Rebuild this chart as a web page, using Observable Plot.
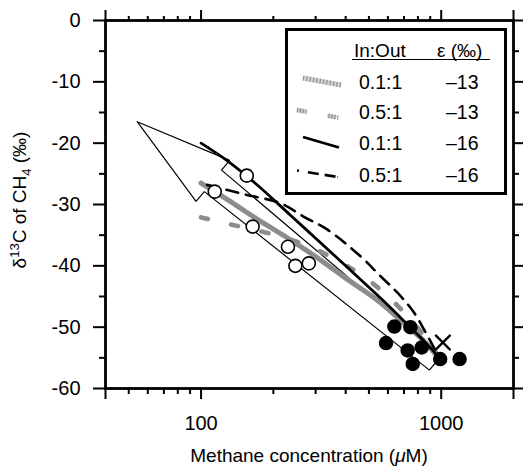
<!DOCTYPE html>
<html><head><meta charset="utf-8">
<script src="https://cdn.jsdelivr.net/npm/d3@7"></script>
<script src="https://cdn.jsdelivr.net/npm/@observablehq/plot@0.6"></script>
<style>
body{margin:0;background:#fff;}
#wrap{position:relative;width:523px;height:469px;font-family:"Liberation Sans",Arial,Helvetica,sans-serif;}
#wrap svg{position:absolute;left:0;top:0;}
</style></head><body><div id="wrap"></div>
<script>
// Observations: open circles and filled circles (methane conc in µM, δ13C in ‰)
const openConc = [114, 155, 164, 230, 247, 281];
const openD13C = [-27.9, -25.3, -33.6, -36.9, -40.0, -39.6];
const filledConc = [638, 744, 589, 725, 830, 761, 990, 1193];
const filledD13C = [-49.9, -50.0, -52.6, -53.8, -53.3, -56.0, -55.2, -55.2];
const crossConc = [1016];
const crossD13C = [-52.5];

// Large open arrow outline (vertices)
const arrowConc = [54.2, 131.5, 121.7, 1000, 893, 103.2, 95.3, 54.2];
const arrowD13C = [-16.5, -22.8, -24.4, -54.7, -57.0, -27.9, -29.5, -16.5];

// Model curves
const solid16Conc = [100, 130, 170, 235, 300, 400, 560, 700, 850, 960, 990];
const solid16D13C = [-20.0, -23.0, -26.7, -31.7, -35.5, -40.0, -45.3, -49.0, -52.3, -54.6, -55.6];
const dash16Conc = [106, 150, 214, 268, 336, 463, 543, 680, 773, 851, 911, 960];
const dash16D13C = [-26.8, -28.3, -29.8, -32.0, -34.1, -38.5, -41.2, -45.0, -47.7, -50.5, -52.6, -54.3];
const gray13Conc = [100, 130, 170, 230, 300, 400, 550, 700, 850, 950];
const gray13D13C = [-26.5, -29.3, -32.3, -35.5, -38.5, -42.0, -45.8, -49.4, -52.3, -54.5];
const grayDash13Conc = [100, 128, 200, 285, 375, 470, 589, 715, 883, 980];
const grayDash13D13C = [-32.1, -33.1, -34.9, -36.9, -39.3, -41.6, -44.7, -48.0, -52.3, -55.0];

// Axis ticks
const xMajor = [40, 100, 1000, 2000];
const xMinor = [50, 60, 70, 80, 90, 200, 300, 400, 500, 600, 700, 800, 900];
const xLabels = [100, 1000];
const yMajor = [0, -10, -20, -30, -40, -50, -60];
const yMinor = [-5, -15, -25, -35, -45, -55];

// Legend rows
const legendInOut = ["0.1:1", "0.5:1", "0.1:1", "0.5:1"];
const legendEps = ["\u201313", "\u201313", "\u201316", "\u201316"];

const pts = (xs, ys) => xs.map((x, i) => ({x, y: ys[i]}));
const arrow = pts(arrowConc, arrowD13C);
const solid16 = pts(solid16Conc, solid16D13C);
const dash16 = pts(dash16Conc, dash16D13C);
const gray13 = pts(gray13Conc, gray13D13C);
const grayDash13 = pts(grayDash13Conc, grayDash13D13C);
const openPts = pts(openConc, openD13C);
const filledPts = pts(filledConc, filledD13C);
const crossPts = pts(crossConc, crossD13C);

const font = "Liberation Sans, Arial, Helvetica, sans-serif";
const blank = () => "";

const plot = Plot.plot({
  width: 523, height: 469,
  marginLeft: 105, marginRight: 10, marginTop: 20, marginBottom: 81,
  style: {fontFamily: font, fontSize: "20px", background: "white", color: "black", overflow: "visible"},
  x: {type: "log", domain: [40, 2000]},
  y: {domain: [-60, 0]},
  marks: [
    // axes
    Plot.axisX({anchor: "bottom", ticks: xMajor, tickSize: 11, strokeWidth: 2, label: null,
      tickFormat: d => xLabels.includes(d) ? String(d) : "", tickPadding: 16}),
    Plot.axisX({anchor: "bottom", ticks: xMinor, tickSize: 6, strokeWidth: 2, label: null, tickFormat: blank}),
    Plot.axisX({anchor: "top", ticks: xMajor, tickSize: 11, strokeWidth: 2, label: null, tickFormat: blank}),
    Plot.axisX({anchor: "top", ticks: xMinor, tickSize: 5, strokeWidth: 2, label: null, tickFormat: blank}),
    Plot.axisY({anchor: "left", ticks: yMajor, tickSize: 12, strokeWidth: 2, label: null,
      tickFormat: d => String(d), tickPadding: 13}),
    Plot.axisY({anchor: "left", ticks: yMinor, tickSize: 6, strokeWidth: 2, label: null, tickFormat: blank}),
    Plot.axisY({anchor: "right", ticks: yMajor, tickSize: 9, strokeWidth: 2, label: null, tickFormat: blank}),
    Plot.axisY({anchor: "right", ticks: yMinor, tickSize: 5, strokeWidth: 2, label: null, tickFormat: blank}),
    Plot.frame({stroke: "black", strokeWidth: 2.8}),
    // big arrow
    Plot.line(arrow, {x: "x", y: "y", stroke: "black", strokeWidth: 1.2, strokeLinejoin: "miter"}),
    // model curves
    Plot.line(gray13, {x: "x", y: "y", stroke: "#cfcfcf", strokeWidth: 5, curve: "catmull-rom"}),
    Plot.line(gray13, {x: "x", y: "y", stroke: "#8c8c8c", strokeWidth: 5, strokeDasharray: "1,2.4", curve: "catmull-rom"}),
    Plot.line(grayDash13, {x: "x", y: "y", stroke: "#c4c4c4", strokeWidth: 4.5, strokeDasharray: "7,24", curve: "catmull-rom"}),
    Plot.line(grayDash13, {x: "x", y: "y", stroke: "#8c8c8c", strokeWidth: 4.5, strokeDasharray: "1,2,1,2,1,24", curve: "catmull-rom"}),
    Plot.line(solid16, {x: "x", y: "y", stroke: "black", strokeWidth: 2.8, curve: "catmull-rom"}),
    Plot.line(dash16, {x: "x", y: "y", stroke: "black", strokeWidth: 2.6, strokeDasharray: "12,8", curve: "catmull-rom"}),
    // observations
    Plot.dot(openPts, {x: "x", y: "y", r: 6.5, fill: "white", stroke: "black", strokeWidth: 1.6}),
    Plot.dot(filledPts, {x: "x", y: "y", r: 6.5, fill: "black", stroke: "black"}),
    Plot.dot(crossPts, {x: "x", y: "y", symbol: "times", r: 7, stroke: "black", strokeWidth: 2.2})
  ]
});
const wrap = document.getElementById("wrap");
wrap.appendChild(plot);
// make tick labels the size of the reference
d3.select(plot).selectAll("text").attr("font-size", 20).style("font-size", "20px");

// Axis titles and legend (overlay SVG, real text)
const svg = d3.select(wrap).append("svg")
  .attr("width", 523).attr("height", 469)
  .style("font-family", font).style("pointer-events", "none");

const xt = svg.append("text").attr("x", 309).attr("y", 462).attr("text-anchor", "middle").attr("font-size", 19);
xt.append("tspan").text("Methane concentration (");
xt.append("tspan").attr("font-style", "italic").text("\u03bc");
xt.append("tspan").text("M)");

const yt = svg.append("text").attr("transform", "translate(26,200) rotate(-90)").attr("text-anchor", "middle").attr("font-size", 19);
yt.append("tspan").text("\u03b4");
yt.append("tspan").attr("font-size", 13).attr("dy", -7).text("13");
yt.append("tspan").attr("dy", 7).text("C of CH");
yt.append("tspan").attr("font-size", 13).attr("dy", 5).text("4");
yt.append("tspan").attr("dy", -5).text(" (\u2030)");

// Legend box
const lg = svg.append("g");
lg.append("rect").attr("x", 286.5).attr("y", 29.5).attr("width", 219).attr("height", 164)
  .attr("fill", "white").attr("stroke", "black").attr("stroke-width", 3);
lg.append("text").attr("x", 354).attr("y", 57).attr("font-size", 19).text("In:Out");
lg.append("text").attr("x", 437).attr("y", 57).attr("font-size", 19).text("\u03b5 (\u2030)");
lg.append("line").attr("x1", 352).attr("x2", 490).attr("y1", 59.5).attr("y2", 59.5).attr("stroke", "black").attr("stroke-width", 1.2);
const rowY = [81.5, 112, 143, 175];
legendInOut.forEach((t, i) => {
  lg.append("text").attr("x", 359).attr("y", rowY[i] + 7).attr("font-size", 19.5).text(t);
  lg.append("text").attr("x", 446).attr("y", rowY[i] + 7).attr("font-size", 19.5).text(legendEps[i]);
});
// legend samples
lg.append("line").attr("x1", 303).attr("y1", 78).attr("x2", 341).attr("y2", 85).attr("stroke", "#cfcfcf").attr("stroke-width", 5);
lg.append("line").attr("x1", 303).attr("y1", 78).attr("x2", 341).attr("y2", 85).attr("stroke", "#8c8c8c").attr("stroke-width", 5).attr("stroke-dasharray", "1,2.4");
lg.append("line").attr("x1", 297).attr("y1", 110).attr("x2", 340).attr("y2", 118).attr("stroke", "#c4c4c4").attr("stroke-width", 4.5).attr("stroke-dasharray", "9,22");
lg.append("line").attr("x1", 297).attr("y1", 110).attr("x2", 340).attr("y2", 118).attr("stroke", "#8c8c8c").attr("stroke-width", 4.5).attr("stroke-dasharray", "1,2,1,2,1,2,1,22");
lg.append("line").attr("x1", 303).attr("y1", 137).attr("x2", 339).attr("y2", 147.5).attr("stroke", "black").attr("stroke-width", 2.8);
lg.append("line").attr("x1", 297).attr("y1", 170.5).attr("x2", 338).attr("y2", 177).attr("stroke", "black").attr("stroke-width", 2.6).attr("stroke-dasharray", "2,9,11,6,11");
</script>
</body></html>
